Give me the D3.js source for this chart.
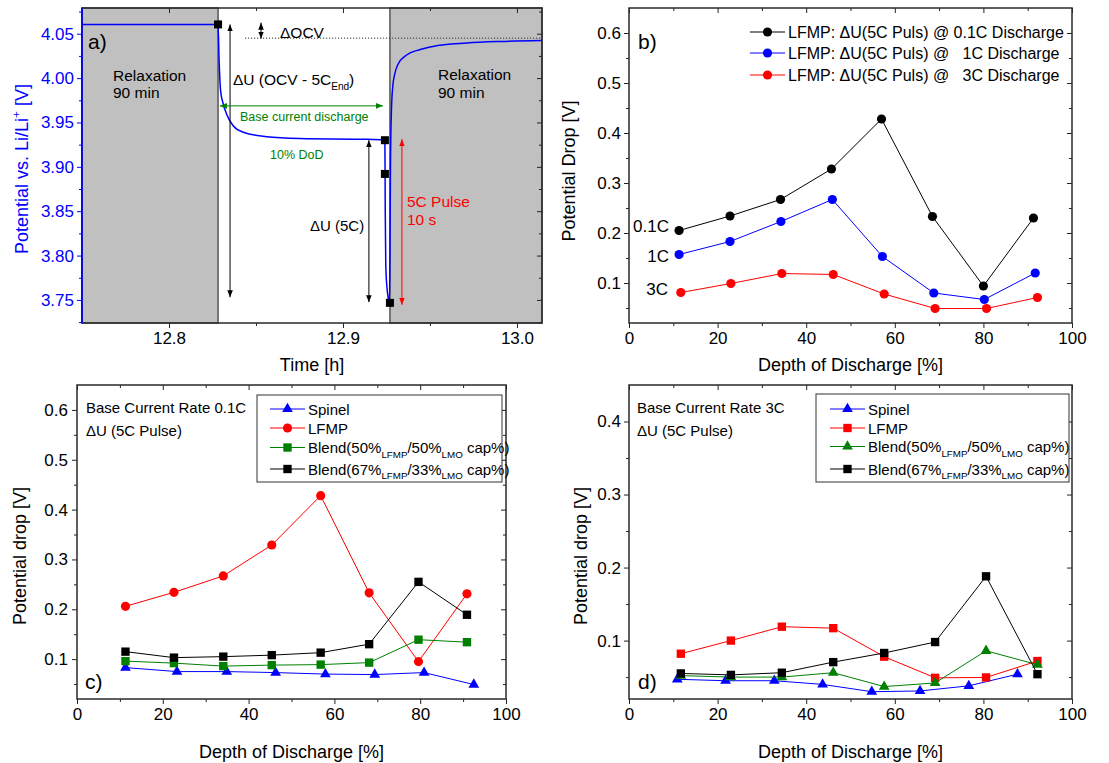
<!DOCTYPE html>
<html lang="en">
<head>
<meta charset="UTF-8">
<title>LFMP pulse drop</title>
<script src="https://d3js.org/d3.v7.min.js"></script>
<style>
  body { margin: 0; background: #fff; }
  text { font-family: "Liberation Sans", Arial, sans-serif; }
</style>
</head>
<body>
<div id="chart"></div>
<script>
// ---------- data ----------
// panel a: potential trace around one pulse (time [h], potential [V])
var traceTime = [12.75, 12.8282, 12.8288, 12.8297, 12.8309, 12.8332, 12.8370, 12.8427, 12.8561, 12.8753, 12.9136, 12.9241,
                 12.9243, 12.9246, 12.9252, 12.9260, 12.9267,
                 12.9270, 12.9273, 12.9278, 12.9286, 12.9298, 12.9315, 12.9366, 12.9440, 12.9517, 12.9711, 12.9902, 13.0144];
var tracePot  = [4.0605, 4.0605, 4.020, 3.985, 3.973, 3.959, 3.946, 3.939, 3.934, 3.932, 3.931, 3.930,
                 3.850, 3.790, 3.766, 3.752, 3.7465,
                 3.800, 3.900, 3.960, 3.990, 4.005, 4.015, 4.026, 4.032, 4.0357, 4.0395, 4.0413, 4.0424];
var markTime = [12.8282, 12.9241, 12.9241, 12.9270];
var markPot  = [4.0605, 3.930, 3.892, 3.7467];
var relaxEnd = 12.8282;     // end of first relaxation
var relaxStart = 12.9270;   // start of second relaxation
var ocvLevel = 4.045;

// panel b: LFMP drop vs DoD at three base currents
var dodB01 = [11.3, 22.8, 34.2, 45.7, 57.0, 68.5, 80.0, 91.3];
var dropB01 = [0.205, 0.234, 0.267, 0.328, 0.428, 0.233, 0.094, 0.230];
var dodB1 = [11.3, 22.8, 34.3, 45.9, 57.2, 68.8, 80.2, 91.7];
var dropB1 = [0.157, 0.183, 0.223, 0.267, 0.153, 0.080, 0.067, 0.120];
var dodB3 = [11.7, 23.0, 34.5, 46.1, 57.6, 69.1, 80.7, 92.2];
var dropB3 = [0.081, 0.099, 0.119, 0.117, 0.078, 0.049, 0.049, 0.071];

// panel c: base current 0.1C
var dodC = [11.3, 22.6, 34.1, 45.4, 56.8, 68.1, 79.6, 90.9];
var dodCSpinel = [11.3, 23.3, 34.9, 46.3, 57.9, 69.4, 80.9, 92.5];
var spinelC = [0.083, 0.075, 0.075, 0.073, 0.070, 0.069, 0.073, 0.049];
var lfmpC   = [0.206, 0.234, 0.267, 0.329, 0.428, 0.233, 0.095, 0.231];
var blend50C = [0.096, 0.092, 0.086, 0.088, 0.089, 0.093, 0.139, 0.134];
var blend67C = [0.115, 0.103, 0.105, 0.108, 0.113, 0.130, 0.255, 0.189];

// panel d: base current 3C
var dodD = [11.7, 23.0, 34.5, 46.1, 57.6, 69.1, 80.6, 92.2];
var dodDSpinel = [10.9, 21.8, 32.8, 43.7, 54.8, 65.7, 76.7, 87.7];
var spinelD = [0.047, 0.045, 0.045, 0.040, 0.030, 0.031, 0.038, 0.054];
var lfmpD   = [0.082, 0.100, 0.119, 0.117, 0.078, 0.049, 0.0495, 0.072];
var blend50D = [0.052, 0.050, 0.050, 0.056, 0.037, 0.042, 0.086, 0.067];
var blend67D = [0.055, 0.053, 0.056, 0.0705, 0.083, 0.098, 0.188, 0.054];

var dodTicks = [0, 20, 40, 60, 80, 100];
var dodMinor = [10, 30, 50, 70, 90];

// ---------- setup ----------
var W = 1109, H = 763;
var FONT = '"Liberation Sans", Arial, sans-serif';
var BLUE = "#0000ff", RED = "#ff0000", GREEN = "#008000";

var svg = d3.select("#chart").append("svg").attr("width", W).attr("height", H);

var defs = svg.append("defs");
[["k", "#000"], ["g", GREEN], ["r", RED]].forEach(function(a) {
    defs.append("marker").attr("id", "arr-" + a[0])
        .attr("viewBox", "0 0 10 10").attr("refX", 10).attr("refY", 5)
        .attr("markerWidth", 7).attr("markerHeight", 7)
        .attr("markerUnits", "userSpaceOnUse")
        .attr("orient", "auto-start-reverse")
        .append("path").attr("d", "M0,1 L10,5 L0,9 Z").attr("fill", a[1]);
});

// text with sub / superscripts
function rich(t, parts, fs) {
    var shift = 0;
    parts.forEach(function(p) {
        var s = typeof p === "string" ? {t: p, k: ""} : p;
        var target = s.k === "sub" ? fs * 0.3 : (s.k === "sup" ? -fs * 0.42 : 0);
        var ts = t.append("tspan").attr("dy", target - shift).text(s.t);
        if (s.k) ts.attr("font-size", fs * 0.65);
        shift = target;
    });
    return t;
}

function label(x, y, parts, fs, color, anchor) {
    var t = svg.append("text").attr("x", x).attr("y", y)
        .attr("font-size", fs).attr("fill", color || "#000")
        .attr("text-anchor", anchor || "start")
        .style("white-space", "pre");
    return rich(t, typeof parts === "string" ? [parts] : parts, fs);
}

function axisTitle(x, y, parts, rotate, color) {
    var t = svg.append("text")
        .attr("transform", "translate(" + x + "," + y + ")" + (rotate ? " rotate(-90)" : ""))
        .attr("text-anchor", "middle").attr("font-size", 18).attr("fill", color || "#000");
    return rich(t, typeof parts === "string" ? [parts] : parts, 18);
}

// axes + frame, ticks out on bottom/left and in on top/right
function drawAxes(x, y, o) {
    var g = svg.append("g");
    var xr = x.range(), yr = y.range();
    var lc = o.leftColor || "#222";
    function put(axis, tx, ty) {
        return g.append("g").attr("transform", "translate(" + tx + "," + ty + ")").call(axis);
    }
    var bx = put(d3.axisBottom(x).tickValues(o.xMajor).tickFormat(o.xFmt).tickSize(5).tickPadding(4), 0, yr[0]);
    put(d3.axisBottom(x).tickValues(o.xMinor).tickFormat("").tickSize(3), 0, yr[0]);
    put(d3.axisTop(x).tickValues(o.xMajor).tickFormat("").tickSize(-5), 0, yr[1]);
    put(d3.axisTop(x).tickValues(o.xMinor).tickFormat("").tickSize(-3), 0, yr[1]);
    var ly = put(d3.axisLeft(y).tickValues(o.yMajor).tickFormat(o.yFmt).tickSize(5).tickPadding(o.yPad || 3), xr[0], 0);
    var lm = put(d3.axisLeft(y).tickValues(o.yMinor).tickFormat("").tickSize(3), xr[0], 0);
    put(d3.axisRight(y).tickValues(o.yMajor).tickFormat("").tickSize(-5), xr[1], 0);
    put(d3.axisRight(y).tickValues(o.yMinor).tickFormat("").tickSize(-3), xr[1], 0);
    g.selectAll(".domain").remove();
    g.selectAll("g").attr("font-size", 17).attr("font-family", FONT);
    g.selectAll(".tick line").attr("stroke", "#222").attr("stroke-width", 1);
    g.selectAll(".tick text").attr("fill", "#000");
    ly.selectAll(".tick line").attr("stroke", lc);
    lm.selectAll(".tick line").attr("stroke", lc);
    ly.selectAll(".tick text").attr("fill", o.leftColor || "#000");
    g.append("rect").attr("x", xr[0]).attr("y", yr[1])
        .attr("width", xr[1] - xr[0]).attr("height", yr[0] - yr[1])
        .attr("fill", "none").attr("stroke", "#2a2a2a").attr("stroke-width", 1.5);
    if (o.leftColor) {
        g.append("line").attr("x1", xr[0]).attr("x2", xr[0]).attr("y1", yr[0]).attr("y2", yr[1])
            .attr("stroke", o.leftColor).attr("stroke-width", 1.6);
    }
}

function series(x, y, xs, ys, color, shape, size) {
    var pts = xs.map(function(d, i) { return [d, ys[i]]; });
    svg.append("path").datum(pts)
        .attr("d", d3.line().x(function(d) { return x(d[0]); }).y(function(d) { return y(d[1]); }))
        .attr("fill", "none").attr("stroke", color).attr("stroke-width", 1);
    svg.append("g").selectAll("path").data(pts).enter().append("path")
        .attr("transform", function(d) { return "translate(" + x(d[0]) + "," + y(d[1]) + ")"; })
        .attr("d", d3.symbol().type(shape).size(size))
        .attr("fill", color);
}

var SIZE = {circle: 66, square: 70, triangle: 50};
var SHAPE = {circle: d3.symbolCircle, square: d3.symbolSquare, triangle: d3.symbolTriangle};

function legendRow(x0, yRow, color, shape, parts, fs) {
    svg.append("line").attr("x1", x0).attr("x2", x0 + 35).attr("y1", yRow).attr("y2", yRow)
        .attr("stroke", color).attr("stroke-width", 1);
    svg.append("path").attr("transform", "translate(" + (x0 + 17.5) + "," + yRow + ")")
        .attr("d", d3.symbol().type(SHAPE[shape]).size(SIZE[shape])).attr("fill", color);
    label(x0 + 38, yRow + 5.5, parts, fs);
}

function arrow(x1, y1, x2, y2, id, color) {
    svg.append("line").attr("x1", x1).attr("y1", y1).attr("x2", x2).attr("y2", y2)
        .attr("stroke", color).attr("stroke-width", 1)
        .attr("marker-start", "url(#arr-" + id + ")").attr("marker-end", "url(#arr-" + id + ")");
}

// ---------- panel a ----------
var xa = d3.scaleLinear().domain([12.75, 13.0144]).range([82, 542]);
var ya = d3.scaleLinear().domain([3.724, 4.079]).range([323, 8]);

svg.append("rect").attr("x", xa(12.75)).attr("y", ya(4.079))
    .attr("width", xa(relaxEnd) - xa(12.75)).attr("height", ya(3.724) - ya(4.079))
    .attr("fill", "#c0c0c0").attr("stroke", "#555").attr("stroke-width", 1.5);
svg.append("rect").attr("x", xa(relaxStart)).attr("y", ya(4.079))
    .attr("width", xa(13.0144) - xa(relaxStart)).attr("height", ya(3.724) - ya(4.079))
    .attr("fill", "#c0c0c0").attr("stroke", "#555").attr("stroke-width", 1.5);

svg.append("line").attr("x1", 245).attr("x2", xa(13.0144))
    .attr("y1", ya(ocvLevel)).attr("y2", ya(ocvLevel))
    .attr("stroke", "#333").attr("stroke-width", 1).attr("stroke-dasharray", "1.2,1.8");

var traceLine = d3.line().curve(d3.curveMonotoneX)
    .x(function(d, i) { return xa(traceTime[i]); })
    .y(function(d) { return ya(d); });
svg.append("path").datum(tracePot).attr("d", traceLine)
    .attr("fill", "none").attr("stroke", BLUE).attr("stroke-width", 1.5);

svg.append("g").selectAll("rect").data(markPot).enter().append("rect")
    .attr("x", function(d, i) { return xa(markTime[i]) - 4; })
    .attr("y", function(d) { return ya(d) - 4; })
    .attr("width", 8).attr("height", 8).attr("fill", "#000");

// annotation arrows
arrow(xa(12.8351), ya(4.0605), xa(12.8351), ya(3.753), "k", "#000");
arrow(xa(12.8529), ya(4.0625), xa(12.8529), ya(4.0445), "k", "#000");
arrow(xa(12.8293), ya(3.9687), xa(12.9230), ya(3.9687), "g", GREEN);
arrow(xa(12.9149), ya(3.930), xa(12.9149), ya(3.7475), "k", "#000");
arrow(xa(12.9339), ya(3.931), xa(12.9339), ya(3.7445), "r", RED);

label(88, 49, "a)", 21);
label(113, 81, "Relaxation", 15.5);
label(113, 98, "90 min", 15.5);
label(438, 80, "Relaxation", 15.5);
label(438, 98, "90 min", 15.5);
label(280, 38, "\u0394OCV", 15.5);
label(233, 85, ["\u0394U (OCV - 5C", {t: "End", k: "sub"}, ")"], 15.5);
label(240, 121, "Base current discharge", 12.5, GREEN);
label(270, 159, "10% DoD", 12.5, GREEN);
label(310, 231, "\u0394U (5C)", 15);
label(407, 207, "5C Pulse", 15.5, RED);
label(407, 225, "10 s", 15.5, RED);

drawAxes(xa, ya, {
    xMajor: [12.8, 12.9, 13.0], xMinor: [12.85, 12.95], xFmt: d3.format(".1f"),
    yMajor: [3.75, 3.80, 3.85, 3.90, 3.95, 4.00, 4.05],
    yMinor: [3.725, 3.775, 3.825, 3.875, 3.925, 3.975, 4.025, 4.075], yFmt: d3.format(".2f"),
    leftColor: BLUE, yPad: 3
});
axisTitle(312, 371, "Time [h]", false);
axisTitle(28, 169, ["Potential vs. Li/Li", {t: "+", k: "sup"}, " [V]"], true, BLUE);

// ---------- panel b ----------
var xb = d3.scaleLinear().domain([0, 100]).range([629, 1072]);
var yb = d3.scaleLinear().domain([0.02, 0.65]).range([323, 8]);
series(xb, yb, dodB01, dropB01, "#000", d3.symbolCircle, SIZE.circle);
series(xb, yb, dodB1, dropB1, BLUE, d3.symbolCircle, SIZE.circle);
series(xb, yb, dodB3, dropB3, RED, d3.symbolCircle, SIZE.circle);
drawAxes(xb, yb, {
    xMajor: dodTicks, xMinor: dodMinor, xFmt: d3.format("d"),
    yMajor: [0.1, 0.2, 0.3, 0.4, 0.5, 0.6], yMinor: [0.05, 0.15, 0.25, 0.35, 0.45, 0.55], yFmt: d3.format(".1f")
});
label(638, 49, "b)", 21);
label(669, 232, "0.1C", 17, "#000", "end");
label(669, 262, "1C", 17, "#000", "end");
label(668, 295, "3C", 17, "#000", "end");
legendRow(750, 32, "#000", "circle", "LFMP: \u0394U(5C Puls) @ 0.1C Discharge", 16);
legendRow(750, 53, BLUE, "circle", "LFMP: \u0394U(5C Puls) @   1C Discharge", 16);
legendRow(750, 75, RED, "circle", "LFMP: \u0394U(5C Puls) @   3C Discharge", 16);
axisTitle(850.5, 371, "Depth of Discharge [%]", false);
axisTitle(575, 171, "Potential Drop [V]", true);

// ---------- panel c ----------
var xc = d3.scaleLinear().domain([0, 100]).range([77, 506]);
var yc = d3.scaleLinear().domain([0.02, 0.65]).range([699, 385]);
series(xc, yc, dodCSpinel, spinelC, BLUE, d3.symbolTriangle, SIZE.triangle);
series(xc, yc, dodC, lfmpC, RED, d3.symbolCircle, SIZE.circle);
series(xc, yc, dodC, blend50C, GREEN, d3.symbolSquare, SIZE.square);
series(xc, yc, dodC, blend67C, "#000", d3.symbolSquare, SIZE.square);
drawAxes(xc, yc, {
    xMajor: dodTicks, xMinor: dodMinor, xFmt: d3.format("d"),
    yMajor: [0.1, 0.2, 0.3, 0.4, 0.5, 0.6], yMinor: [0.05, 0.15, 0.25, 0.35, 0.45, 0.55], yFmt: d3.format(".1f"),
    yPad: 4
});
label(85, 689, "c)", 21);
label(86, 413, "Base Current Rate 0.1C", 15);
label(86, 436, "\u0394U (5C Pulse)", 15);
svg.append("rect").attr("x", 257).attr("y", 395).attr("width", 245).attr("height", 87)
    .attr("fill", "#fff").attr("stroke", "#333").attr("stroke-width", 1);
legendRow(270, 409, BLUE, "triangle", "Spinel", 15);
legendRow(270, 428, RED, "circle", "LFMP", 15);
legendRow(270, 447.5, GREEN, "square", ["Blend(50%", {t: "LFMP", k: "sub"}, "/50%", {t: "LMO", k: "sub"}, " cap%)"], 15);
legendRow(270, 469, "#000", "square", ["Blend(67%", {t: "LFMP", k: "sub"}, "/33%", {t: "LMO", k: "sub"}, " cap%)"], 15);
axisTitle(291.5, 758, "Depth of Discharge [%]", false);
axisTitle(26, 556, "Potential drop [V]", true);

// ---------- panel d ----------
var xd = d3.scaleLinear().domain([0, 100]).range([629, 1072]);
var yd = d3.scaleLinear().domain([0.02, 0.45]).range([699, 385]);
series(xd, yd, dodDSpinel, spinelD, BLUE, d3.symbolTriangle, SIZE.triangle);
series(xd, yd, dodD, lfmpD, RED, d3.symbolSquare, SIZE.square);
series(xd, yd, dodD, blend50D, GREEN, d3.symbolTriangle, SIZE.triangle);
series(xd, yd, dodD, blend67D, "#000", d3.symbolSquare, SIZE.square);
drawAxes(xd, yd, {
    xMajor: dodTicks, xMinor: dodMinor, xFmt: d3.format("d"),
    yMajor: [0.1, 0.2, 0.3, 0.4], yMinor: [0.05, 0.15, 0.25, 0.35], yFmt: d3.format(".1f")
});
label(638, 689, "d)", 21);
label(637, 413, "Base Current Rate 3C", 15);
label(637, 436, "\u0394U (5C Pulse)", 15);
svg.append("rect").attr("x", 816).attr("y", 394).attr("width", 253).attr("height", 88)
    .attr("fill", "#fff").attr("stroke", "#333").attr("stroke-width", 1);
legendRow(830, 409, BLUE, "triangle", "Spinel", 15);
legendRow(830, 428, RED, "square", "LFMP", 15);
legendRow(830, 446.5, GREEN, "triangle", ["Blend(50%", {t: "LFMP", k: "sub"}, "/50%", {t: "LMO", k: "sub"}, " cap%)"], 15);
legendRow(830, 469, "#000", "square", ["Blend(67%", {t: "LFMP", k: "sub"}, "/33%", {t: "LMO", k: "sub"}, " cap%)"], 15);
axisTitle(850.5, 758, "Depth of Discharge [%]", false);
axisTitle(587, 556, "Potential drop [V]", true);
</script>
</body>
</html>
